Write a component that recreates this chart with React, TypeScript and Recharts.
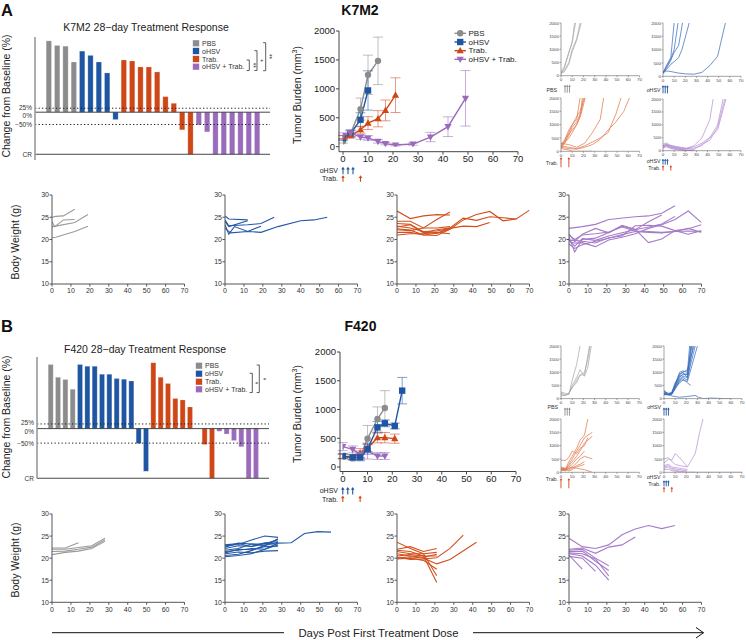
import React from 'react';
import { BarChart, Bar, Cell, LineChart, Line, XAxis, YAxis, ReferenceLine, ReferenceDot, ErrorBar } from 'recharts';

const FONT = '"Liberation Sans", Arial, Helvetica, sans-serif';
const COL: Record<string, string> = { pbs: '#8c8c8c', ohsv: '#1f56a3', trab: '#cf4617', combo: '#9a6bbb' };
const MINI: Record<string, string> = { pbs: '#a9a9a9', ohsv: '#3d70bd', trab: '#e07a4e', combo: '#b893d5' };
const BWC: Record<string, string> = { pbs: '#9a9a9a', ohsv: '#2358a6', trab: '#d2501d', combo: '#a57bc9' };

// ---------- ticks ----------
const X_TICKS = [0, 10, 20, 30, 40, 50, 60, 70];
const TB_TICKS = [0, 500, 1000, 1500, 2000];
const BW_TICKS = [10, 15, 20, 25, 30];

// ---------- waterfall (% change from baseline, -100 = CR) ----------
const K7M2_WF_PBS = [5460, 4190, 4020, 1590];
const K7M2_WF_OHSV = [3020, 2350, 1590, 814, -34];
const K7M2_WF_TRAB = [1790, 1690, 1180, 1180, 866, 140, 65, -63, -100];
const K7M2_WF_COMBO = [-51, -67, -100, -100, -100, -100, -100, -100];
const F420_WF_PBS = [2030, 1060, 940, 556];
const F420_WF_OHSV = [2030, 1870, 1870, 1240, 1240, 990, 957, 877, -51, -87];
const F420_WF_TRAB = [2240, 1060, 759, 320, 294, 182, 0, -53, -100];
const F420_WF_COMBO = [-12, -23, -43, -58, -100, -100];
const WF_LEGEND = ['PBS', 'oHSV', 'Trab.', 'oHSV + Trab.'];

// ---------- tumor burden means (mm3) ----------
const K7M2_PBS_DAYS = [0, 3, 7, 10, 14];
const K7M2_PBS_MEAN = [92, 224, 650, 1242, 1484];
const K7M2_PBS_SEM = [30, 60, 190, 340, 410];
const K7M2_OHSV_DAYS = [0, 3, 7, 10];
const K7M2_OHSV_MEAN = [150, 224, 466, 972];
const K7M2_OHSV_SEM = [40, 50, 120, 340];
const K7M2_TRAB_DAYS = [0, 3, 7, 10, 14, 17, 21];
const K7M2_TRAB_MEAN = [167, 190, 293, 408, 483, 627, 891];
const K7M2_TRAB_SEM = [30, 40, 60, 110, 140, 180, 300];
const K7M2_COMBO_DAYS = [0, 3, 7, 10, 14, 17, 21, 28, 35, 42, 49];
const K7M2_COMBO_MEAN = [190, 236, 167, 150, 92, 52, 29, 46, 167, 346, 836];
const K7M2_COMBO_SEM = [50, 60, 40, 40, 30, 20, 15, 20, 80, 170, 480];

const F420_PBS_DAYS = [0, 4, 7, 10, 14, 17];
const F420_PBS_MEAN = [180, 150, 180, 493, 835, 1027];
const F420_PBS_SEM = [40, 30, 40, 230, 210, 300];
const F420_OHSV_DAYS = [0, 4, 7, 10, 14, 17, 21, 24];
const F420_OHSV_MEAN = [191, 168, 168, 313, 690, 760, 713, 1328];
const F420_OHSV_SEM = [40, 40, 60, 90, 100, 60, 50, 230];
const F420_TRAB_DAYS = [0, 4, 7, 10, 14, 17, 21];
const F420_TRAB_MEAN = [185, 175, 240, 330, 510, 510, 493];
const F420_TRAB_SEM = [40, 40, 80, 60, 90, 90, 80];
const F420_COMBO_DAYS = [0, 4, 7, 10, 14, 17];
const F420_COMBO_MEAN = [354, 307, 220, 278, 191, 191];
const F420_COMBO_SEM = [70, 60, 60, 140, 60, 60];

const OHSV_DOSES = [0, 2, 4];
const TRAB_DOSES = [0, 7];
const TB_LEGEND = ['PBS', 'oHSV', 'Trab.', 'oHSV + Trab.'];

// ---------- individual tumor curves [day, mm3] ----------
const K7M2_IND_PBS = [
  [[0, 50], [3, 300], [7, 850], [10, 1300], [13, 2000]],
  [[0, 100], [3, 200], [7, 500], [10, 1000], [14, 1400], [17, 2000]],
  [[0, 80], [3, 150], [7, 450], [10, 900], [14, 1350], [18, 2000]],
  [[0, 120], [3, 350], [7, 900], [10, 1250], [12, 2000]],
];
const K7M2_IND_OHSV = [
  [[0, 100], [3, 400], [7, 700], [10, 2000]],
  [[0, 150], [3, 350], [7, 650], [10, 1000], [13.5, 2000]],
  [[0, 120], [3, 300], [7, 600], [10, 900], [14, 1150], [17.5, 2000]],
  [[0, 100], [3, 250], [7, 450], [10, 550], [14, 700], [17, 1000], [23.5, 2000]],
  [[0, 150], [3, 200], [7, 180], [14, 120], [21, 90], [28, 80], [35, 150], [42, 400], [49, 750], [56, 2000]],
];
const K7M2_IND_TRAB = [
  [[0, 200], [3, 400], [7, 700], [10, 1000], [14, 1200], [17, 2000]],
  [[0, 150], [3, 300], [7, 600], [10, 900], [14, 1100], [18, 1500], [20, 2000]],
  [[0, 250], [3, 400], [7, 800], [10, 1000], [14, 1300], [17, 1500], [21, 2000]],
  [[0, 100], [3, 300], [7, 500], [10, 700], [14, 1000], [18, 1400], [21.5, 2000]],
  [[0, 200], [3, 350], [7, 650], [10, 800], [14, 1000], [17, 1300], [19, 2000]],
  [[0, 300], [7, 250], [14, 150], [21, 300], [28, 700], [35, 1200], [38, 2000]],
  [[0, 200], [7, 150], [14, 100], [21, 200], [28, 350], [35, 500], [42, 700], [49, 1400], [53.5, 2000]],
  [[0, 150], [7, 100], [14, 80], [21, 150], [28, 250], [35, 450], [42, 800], [49, 1100], [56, 1500], [61, 2000]],
  [[0, 100], [7, 50], [10, 0], [28, 0]],
];
const K7M2_IND_COMBO = [
  [[0, 250], [3, 300], [7, 200], [10, 150], [14, 100], [21, 80], [28, 200], [35, 500], [42, 1200], [45, 2000]],
  [[0, 200], [3, 250], [7, 200], [14, 150], [21, 100], [28, 150], [35, 300], [42, 500], [49, 1000], [54, 2000]],
  [[0, 150], [3, 200], [7, 180], [14, 120], [21, 60], [28, 50], [35, 250], [42, 400], [49, 900], [55.5, 2000]],
  [[0, 180], [3, 220], [7, 150], [14, 100], [21, 80], [28, 100], [35, 200], [42, 500], [49, 800], [56.5, 2000]],
  [[0, 200], [3, 250], [7, 150], [14, 80], [21, 20], [28, 0]],
  [[0, 150], [3, 180], [7, 100], [14, 50], [21, 0], [28, 0]],
  [[0, 100], [3, 150], [7, 80], [14, 30], [21, 0]],
  [[0, 120], [3, 200], [7, 120], [14, 60], [21, 10], [28, 0]],
];
const F420_IND_PBS = [
  [[0, 250], [4, 200], [7, 150], [10, 700], [14, 1300], [17, 2000]],
  [[0, 200], [4, 150], [7, 200], [10, 500], [14, 800], [17, 1100], [21, 850], [24, 1200], [27, 2000]],
  [[0, 150], [4, 120], [7, 200], [10, 400], [14, 700], [17, 900], [21, 900], [25.5, 2000]],
  [[0, 100], [4, 120], [7, 180], [10, 450], [14, 600], [17, 900], [21, 1000], [24, 1500], [26, 2000]],
];
const F420_IND_OHSV = [
  [[0, 200], [4, 150], [7, 200], [10, 500], [14, 900], [17, 1000], [21, 800], [24, 2000]],
  [[0, 180], [4, 160], [7, 180], [10, 450], [14, 800], [17, 950], [21, 900], [25, 2000]],
  [[0, 220], [4, 170], [7, 220], [10, 550], [14, 1000], [17, 1050], [21, 1000], [23, 2000]],
  [[0, 150], [4, 140], [7, 160], [10, 400], [14, 700], [17, 800], [21, 700], [26, 2000]],
  [[0, 250], [4, 200], [7, 240], [10, 600], [14, 850], [17, 900], [21, 950], [24.5, 2000]],
  [[0, 160], [4, 150], [7, 170], [10, 350], [14, 650], [17, 750], [21, 600], [24, 500]],
  [[0, 300], [4, 180], [7, 200], [10, 500], [14, 950], [17, 1000], [21, 1100], [27, 2000]],
  [[0, 200], [4, 160], [7, 190], [10, 480], [14, 750], [17, 850], [21, 800], [28, 2000]],
  [[0, 170], [4, 150], [7, 180], [10, 420], [14, 600], [17, 700], [21, 650], [30, 2000]],
  [[0, 300], [4, 150], [7, 100], [14, 50], [21, 80], [28, 120], [31, 50], [35, 0], [42, 20], [49, 10], [56, 0], [60, 0]],
];
const F420_IND_TRAB = [
  [[0, 150], [4, 120], [7, 400], [10, 600], [14, 900], [17, 1200], [21, 1400], [24, 2000]],
  [[0, 100], [4, 80], [7, 300], [10, 500], [14, 800], [17, 1000], [21, 1300], [28, 1500]],
  [[0, 450], [4, 450], [7, 550], [10, 800], [14, 700], [17, 900], [21, 1000], [24, 1300]],
  [[0, 100], [4, 100], [7, 250], [10, 400], [14, 600], [17, 800], [21, 1100], [28, 1350]],
  [[0, 150], [4, 130], [7, 200], [10, 300], [14, 500], [17, 600], [21, 800]],
  [[0, 120], [4, 100], [7, 150], [10, 200], [14, 350], [17, 500], [21, 600], [28, 500]],
  [[0, 80], [4, 60], [7, 100], [10, 150], [14, 250], [17, 300], [21, 400]],
  [[0, 200], [4, 150], [7, 50], [10, 100], [14, 200], [21, 300]],
  [[0, 100], [4, 80], [7, 150], [10, 200], [14, 150], [21, 100], [28, 0]],
];
const F420_IND_COMBO = [
  [[0, 350], [4, 500], [7, 450], [10, 700], [14, 550], [17, 400], [21, 200], [28, 700], [32, 1500], [35, 2000]],
  [[0, 500], [4, 550], [7, 400], [10, 300], [14, 250], [21, 200]],
  [[0, 250], [4, 300], [7, 200], [14, 150], [21, 100]],
  [[0, 200], [4, 250], [7, 150], [14, 100], [21, 50]],
  [[0, 150], [4, 200], [7, 100], [14, 50], [21, 0], [28, 0]],
  [[0, 100], [4, 120], [7, 60], [14, 20], [21, 0], [70, 0]],
];

// ---------- body weight [day, g] ----------
const K7M2_BW_PBS = [
  [[0, 25], [2, 25.2], [6, 25.3], [12, 26.8]],
  [[0, 24], [1.5, 22.9], [6, 24.4], [12, 24.5]],
  [[0, 22.9], [2, 23], [12, 23.8], [19, 25.6]],
  [[0, 20.4], [2, 20.5], [12, 21.8], [19, 23]],
];
const K7M2_BW_OHSV = [
  [[0, 25.3], [2, 24.6], [12, 24.4]],
  [[0, 24.4], [2, 23.1], [12, 23.3], [19, 23.6], [26, 25]],
  [[0, 23.3], [2, 21.2], [5, 22.9], [12, 21.8], [19, 23]],
  [[0, 22.5], [3, 21.5], [12, 21.8], [19, 21.6], [28, 22.9], [40, 24.2], [47, 24.4], [54, 25]],
  [[0, 24], [2, 22.9], [12, 24.2]],
];
const K7M2_BW_TRAB = [
  [[0, 26.4], [7, 24.7], [14, 25.3], [21, 25.6], [28, 25.5]],
  [[0, 24.1], [7, 24.1], [14, 22.6], [21, 24.5], [28, 26.2]],
  [[0, 23.6], [7, 23.4], [14, 21.7], [21, 21.4], [28, 22.6], [35, 24.8], [42, 24.3], [49, 25.1], [56, 24.9], [63, 24.6], [70, 26.6]],
  [[0, 22.4], [7, 22.1], [14, 21], [21, 21.4], [28, 22.3], [35, 24.4], [42, 25.6], [49, 26.3], [56, 24.2], [63, 24.6]],
  [[0, 23], [7, 22.6], [14, 21.8], [21, 21.9], [28, 22.5], [35, 23], [42, 22.9], [49, 23.8]],
  [[0, 21], [7, 21.3], [14, 21.3], [21, 21.6], [28, 21.3]],
  [[0, 21.6], [7, 21.6], [14, 21], [21, 20.9], [28, 22.3]],
  [[0, 22.2], [7, 22], [14, 22.6], [21, 22.6], [28, 22.9]],
  [[0, 22.8], [7, 23.3], [14, 21.5], [21, 22.2], [28, 22.6]],
];
const K7M2_BW_COMBO = [
  [[0, 22.5], [7, 22.9], [14, 23.4], [21, 24.5], [35, 25.1], [42, 25.3], [49, 25.9], [56, 27.6]],
  [[0, 21.3], [3, 19.5], [7, 21.2], [14, 22.5], [21, 21.5], [28, 23.2], [35, 22.3], [42, 19.3], [49, 20.1], [56, 22], [63, 21.2], [70, 22]],
  [[0, 20.6], [3, 17.2], [7, 20], [14, 20.3], [21, 21.6], [28, 23], [35, 22.2], [42, 24], [49, 25.5]],
  [[0, 20], [3, 18.5], [7, 20.2], [14, 19.8], [21, 20.8], [28, 21.5], [35, 22.2], [42, 22.8], [49, 23.5], [56, 25.2]],
  [[0, 19.5], [3, 19.2], [7, 19.3], [14, 18.4], [21, 19.9], [28, 20.5], [35, 21.3], [42, 22.5], [49, 23.3], [56, 24.5], [63, 26.4], [70, 23.8]],
  [[0, 19.8], [3, 19.8], [7, 19.6], [14, 19.2], [21, 20.4], [28, 20.8], [35, 23.1], [42, 23.2], [49, 23], [56, 22], [63, 22.4], [70, 23.3]],
  [[0, 19], [3, 18], [7, 18.8], [14, 19.6], [21, 20.3], [28, 21.1], [35, 21.8], [42, 21.6], [49, 21.5], [56, 21.8], [63, 21.9], [70, 21.8]],
  [[0, 21], [3, 20], [7, 21], [14, 21.3], [21, 21.7], [28, 22.8], [35, 21.9], [42, 21.8], [49, 21.6], [56, 21.8], [63, 22.5], [70, 21.6]],
];
const F420_BW_PBS = [
  [[0, 22.3], [7, 22.3], [14, 23.5]],
  [[0, 22], [7, 22], [14, 22.4], [21, 22.8], [28, 24.5]],
  [[0, 21.5], [7, 21.6], [14, 22], [21, 22.5], [28, 24.1]],
  [[0, 20.8], [7, 21.3], [14, 21.6], [21, 22.2], [28, 23.8]],
];
const F420_BW_OHSV = [
  [[0, 20.3], [7, 20.6], [14, 21], [21, 22], [28, 23.4], [35, 23.5], [42, 25.6], [49, 26], [56, 25.9]],
  [[0, 22.8], [7, 23.1], [14, 24.1], [21, 25], [28, 24.7]],
  [[0, 22.5], [7, 23.4], [14, 23.2], [21, 23.2], [28, 24.2]],
  [[0, 22.2], [7, 22.8], [14, 22.7], [21, 23.5], [28, 23.7]],
  [[0, 21.8], [7, 22.2], [14, 23.2], [21, 22.8], [28, 24.4]],
  [[0, 21.5], [7, 21.8], [14, 22.2], [21, 22], [28, 23]],
  [[0, 21.2], [7, 22], [14, 21.9], [21, 22.6], [28, 22.7]],
  [[0, 21], [7, 21.4], [14, 21.2], [21, 21.6], [28, 21.7]],
  [[0, 20.6], [7, 20.9], [14, 21.7], [21, 22.9], [28, 23.6]],
  [[0, 23], [7, 23.3], [14, 22.6], [21, 23.3], [28, 23.2]],
];
const F420_BW_TRAB = [
  [[0, 23.6], [7, 22.2], [14, 21], [21, 16]],
  [[0, 22], [7, 22.6], [14, 21.5], [21, 22.2]],
  [[0, 21.8], [7, 21.5], [14, 20.5], [21, 14.5]],
  [[0, 21.5], [7, 21], [14, 21], [21, 21.3]],
  [[0, 21], [7, 20.5], [14, 20.2], [21, 20.9]],
  [[0, 20.5], [7, 20.8], [14, 20.5], [21, 20.5]],
  [[0, 20.2], [7, 19.7], [14, 19.8], [21, 20.1], [28, 22.2], [35, 25.2]],
  [[0, 20], [7, 20.3], [14, 20], [21, 18.7], [28, 19.7], [42, 23.6]],
  [[0, 19.8], [7, 20], [14, 19.5], [21, 17.5]],
];
const F420_BW_COMBO = [
  [[0, 24.5], [7, 22.6], [14, 22.2], [21, 23], [28, 25.3], [35, 26.6], [42, 27.4], [49, 26.7], [56, 27.4]],
  [[0, 22], [7, 22.3], [14, 21.1], [21, 22.5], [28, 23], [35, 24.8]],
  [[0, 21.8], [7, 22], [14, 20], [21, 18.3]],
  [[0, 21.5], [7, 21.6], [14, 19.3], [21, 17.2]],
  [[0, 21.2], [7, 21], [14, 19.8], [21, 16]],
  [[0, 21], [7, 20.5], [14, 18.4], [21, 15]],
  [[0, 20.7], [7, 17.5]],
  [[0, 20.4], [7, 20], [14, 17]],
];

// ---------- helpers ----------
const CR_POS = -1.03;
const wfPos = (pct: number) => (pct <= -100 ? CR_POS : Math.log10(1 + pct / 100));
const wfRows = (groups: [string, number[]][]) => {
  const rows: any[] = [];
  groups.forEach(([g, vals]) => vals.forEach((v) => rows.push({ i: rows.length, g, pct: v, pos: wfPos(v) })));
  return rows;
};
const toPts = (arr: number[][]) => arr.map(([d, v]) => ({ d, v }));
const zipSeries = (days: number[], mean: number[], sem: number[]) => days.map((d, i) => ({ d, v: mean[i], e: sem[i] }));

function frame(x0: number, x1: number, y0: number, y1: number, yw: number, xh: number, mt: number, mr: number, mb: number) {
  return {
    style: { position: 'absolute', left: x0 - yw, top: y0 - mt } as React.CSSProperties,
    width: x1 - x0 + yw + mr,
    height: y1 - y0 + mt + xh + mb,
    margin: { top: mt, right: mr, left: 0, bottom: mb },
  };
}

const WF_LABELS: [number, string, number][] = [
  [wfPos(25), '25%', -1],
  [0, '0%', 3],
  [wfPos(-50), '\u221250%', 0],
  [CR_POS, 'CR', 0],
];

function WfTick(p: any) {
  const v = p.payload?.value;
  const found = WF_LABELS.find((l) => Math.abs(l[0] - v) < 1e-6);
  if (!found) return <g />;
  return (
    <text x={p.x + 1} y={p.y + found[2]} textAnchor="end" dominantBaseline="central" fontSize={6.5} fill="#333">
      {found[1]}
    </text>
  );
}

function Waterfall({ rows, box, domain, padL, padR, barSize }: any) {
  const f = frame(box.x0, box.x1, box.y0, box.y1, 30, 0, 2, 2, 8);
  const ticks = WF_LABELS.map((l) => l[0]);
  return (
    <div style={f.style}>
      <BarChart width={f.width} height={f.height} data={rows} margin={f.margin} barCategoryGap={0}>
        <XAxis dataKey="i" hide padding={{ left: padL, right: padR }} />
        <YAxis
          type="number"
          domain={domain}
          allowDataOverflow
          ticks={ticks}
          interval={0}
          width={30}
          axisLine={{ stroke: '#9a9a9a', strokeWidth: 1.6 }}
          tickLine={false}
          tickSize={3}
          tickMargin={1}
          tick={(p: any) => <WfTick {...p} />}
        />
        <Bar dataKey="pos" barSize={barSize} isAnimationActive={false}>
          {rows.map((r: any) => (
            <Cell key={r.i} fill={COL[r.g]} stroke="#ffffff" strokeOpacity={0.5} strokeWidth={0.4} />
          ))}
        </Bar>
        <ReferenceLine y={ticks[0]} stroke="#222" strokeDasharray="1.3 2.2" strokeWidth={1} />
        <ReferenceLine y={0} stroke="#333" strokeWidth={0.9} />
        <ReferenceLine y={ticks[2]} stroke="#222" strokeDasharray="1.3 2.2" strokeWidth={1} />
        <ReferenceLine y={CR_POS} stroke="#333" strokeWidth={0.9} />
      </BarChart>
    </div>
  );
}

function markerShape(shape: string, color: string, cx: number, cy: number, key?: any) {
  if (cx == null || cy == null || isNaN(cx) || isNaN(cy)) return <g key={key} />;
  if (shape === 'circle') return <circle key={key} cx={cx} cy={cy} r={3.2} fill={color} />;
  if (shape === 'square') return <rect key={key} x={cx - 3.2} y={cy - 3.2} width={6.4} height={6.4} fill={color} />;
  if (shape === 'up')
    return <polygon key={key} points={`${cx},${cy - 3.8} ${cx + 3.6},${cy + 2.6} ${cx - 3.6},${cy + 2.6}`} fill={color} />;
  return <polygon key={key} points={`${cx},${cy + 3.8} ${cx + 3.6},${cy - 2.6} ${cx - 3.6},${cy - 2.6}`} fill={color} />;
}

function arrowShape(cx: number, cy: number, yTop: number, yBot: number, color: string, w = 1.1, head = 1.8, dx = 0) {
  if (cx == null || cy == null) return <g />;
  const x = cx + dx;
  const t = cy + yTop;
  const b = cy + yBot;
  return (
    <g>
      <line x1={x} y1={b} x2={x} y2={t + head * 0.8} stroke={color} strokeWidth={w} />
      <polygon points={`${x},${t} ${x + head},${t + head * 1.5} ${x - head},${t + head * 1.5}`} fill={color} />
    </g>
  );
}

const SHAPES: Record<string, string> = { pbs: 'circle', ohsv: 'square', trab: 'up', combo: 'down' };

function Tumor({ box, padL, padB, series }: any) {
  const f = frame(box.x0, box.x1, box.y0, box.y1, 34, 16, 6, 8, 38);
  return (
    <div style={f.style}>
      <LineChart width={f.width} height={f.height} margin={f.margin}>
        <XAxis
          type="number"
          dataKey="d"
          domain={[0, 70]}
          ticks={X_TICKS}
          interval={0}
          allowDataOverflow
          padding={{ left: padL, right: 0 }}
          height={16}
          tick={{ fontSize: 9.5, fill: '#222' }}
          tickSize={3}
          tickMargin={1}
          axisLine={{ stroke: '#444' }}
          tickLine={{ stroke: '#444' }}
        />
        <YAxis
          type="number"
          domain={[0, 2000]}
          ticks={TB_TICKS}
          interval={0}
          allowDataOverflow
          padding={{ top: 0, bottom: padB }}
          width={34}
          tick={{ fontSize: 9.5, fill: '#222' }}
          tickSize={3}
          tickMargin={1}
          axisLine={{ stroke: '#444' }}
          tickLine={{ stroke: '#444' }}
        />
        {series.map((s: any) => (
          <Line
            key={s.g}
            data={s.pts}
            dataKey="v"
            stroke={COL[s.g]}
            strokeWidth={1.4}
            isAnimationActive={false}
            activeDot={false}
            dot={(p: any) => markerShape(SHAPES[s.g], COL[s.g], p.cx, p.cy, p.index)}
          >
            <ErrorBar dataKey="e" width={5} strokeWidth={1} stroke={COL[s.g]} strokeOpacity={0.55} direction="y" />
          </Line>
        ))}
        {OHSV_DOSES.map((d) => (
          <ReferenceDot key={'o' + d} x={d} y={0} ifOverflow="visible" shape={(p: any) => arrowShape(p.cx, p.cy, 20, 27.5, COL.ohsv)} />
        ))}
        {TRAB_DOSES.map((d) => (
          <ReferenceDot key={'t' + d} x={d} y={0} ifOverflow="visible" shape={(p: any) => arrowShape(p.cx, p.cy, 28.5, 35, COL.trab)} />
        ))}
      </LineChart>
    </div>
  );
}

function Mini({ box, mice, g, marks }: any) {
  const f = frame(box.x0, box.x1, box.y0, box.y1, 14, 8, 3, 4, 22);
  return (
    <div style={f.style}>
      <LineChart width={f.width} height={f.height} margin={f.margin}>
        <XAxis
          type="number"
          dataKey="d"
          domain={[0, 70]}
          ticks={X_TICKS}
          interval={0}
          allowDataOverflow
          height={8}
          tick={{ fontSize: 4.4, fill: '#444' }}
          tickSize={1.5}
          tickMargin={0.8}
          axisLine={{ stroke: '#666', strokeWidth: 0.6 }}
          tickLine={{ stroke: '#666', strokeWidth: 0.6 }}
        />
        <YAxis
          type="number"
          domain={[0, 2000]}
          ticks={TB_TICKS}
          interval={0}
          allowDataOverflow
          width={14}
          tick={{ fontSize: 4.4, fill: '#444' }}
          tickSize={1.5}
          tickMargin={0.6}
          axisLine={{ stroke: '#666', strokeWidth: 0.6 }}
          tickLine={{ stroke: '#666', strokeWidth: 0.6 }}
        />
        {mice.map((m: number[][], i: number) => (
          <Line key={i} data={toPts(m)} dataKey="v" stroke={MINI[g]} strokeWidth={0.75} dot={false} activeDot={false} isAnimationActive={false} />
        ))}
        {marks.map((mk: any, i: number) => (
          <ReferenceDot
            key={'m' + i}
            x={mk.d}
            y={0}
            ifOverflow="visible"
            shape={(p: any) => arrowShape(p.cx, p.cy, mk.top, mk.bot, mk.color, 0.9, 1.3, mk.dx || 0)}
          />
        ))}
      </LineChart>
    </div>
  );
}

function BodyWeight({ box, mice, g }: any) {
  const f = frame(box.x0, box.x1, box.y0, box.y1, 20, 14, 5, 6, 0);
  return (
    <div style={f.style}>
      <LineChart width={f.width} height={f.height} margin={f.margin}>
        <XAxis
          type="number"
          dataKey="d"
          domain={[0, 70]}
          ticks={X_TICKS}
          interval={0}
          allowDataOverflow
          height={14}
          tick={{ fontSize: 7, fill: '#333' }}
          tickSize={2.5}
          tickMargin={2}
          axisLine={{ stroke: '#555' }}
          tickLine={{ stroke: '#555' }}
        />
        <YAxis
          type="number"
          domain={[10, 30]}
          ticks={BW_TICKS}
          interval={0}
          allowDataOverflow
          width={20}
          tick={{ fontSize: 7, fill: '#333' }}
          tickSize={2.5}
          tickMargin={0.5}
          axisLine={{ stroke: '#555' }}
          tickLine={{ stroke: '#555' }}
        />
        {mice.map((m: number[][], i: number) => (
          <Line key={i} data={toPts(m)} dataKey="v" stroke={BWC[g]} strokeWidth={1.1} dot={false} activeDot={false} isAnimationActive={false} />
        ))}
      </LineChart>
    </div>
  );
}

const GROUPS = ['pbs', 'ohsv', 'trab', 'combo'];

function WfLegend({ x, ys }: { x: number; ys: number[] }) {
  return (
    <g>
      {GROUPS.map((g, i) => (
        <g key={g}>
          <rect x={x} y={ys[i] - 3.3} width={6.6} height={6.6} fill={COL[g]} stroke="#fff" strokeWidth={0.4} />
          <text x={x + 9.3} y={ys[i]} dominantBaseline="central" fontSize={7} fill="#333">
            {WF_LEGEND[i]}
          </text>
        </g>
      ))}
    </g>
  );
}

function Bracket({ x, y1, y2, stars, sx, sy }: any) {
  return (
    <g>
      <path d={`M${x - 2.6},${y1} H${x} V${y2} H${x - 2.6}`} stroke="#333" strokeWidth={0.8} fill="none" />
      <text transform={`translate(${sx},${sy}) rotate(90)`} textAnchor="middle" dominantBaseline="central" fontSize={6.5} fill="#333">
        {stars}
      </text>
    </g>
  );
}

function Overlay() {
  const tbLegendY = [33.3, 42, 50.7, 59.3];
  return (
    <svg width={746} height={640} style={{ position: 'absolute', left: 0, top: 0, pointerEvents: 'none', fontFamily: FONT }}>
      <text x={1} y={16} fontSize={16.5} fontWeight="bold" fill="#111">A</text>
      <text x={1} y={332} fontSize={16.5} fontWeight="bold" fill="#111">B</text>

      <text x={146} y={31} textAnchor="middle" fontSize={10.5} fill="#222">K7M2 28{'\u2212'}day Treatment Response</text>
      <text x={145} y={353} textAnchor="middle" fontSize={10.5} fill="#222">F420 28{'\u2212'}day Treatment Response</text>

      <text transform="translate(10,96) rotate(-90)" textAnchor="middle" fontSize={10.5} fill="#222">Change from Baseline (%)</text>
      <text transform="translate(10,417) rotate(-90)" textAnchor="middle" fontSize={10.5} fill="#222">Change from Baseline (%)</text>

      <WfLegend x={192.7} ys={[43.3, 51, 59, 66.7]} />
      <Bracket x={249.3} y1={60} y2={70.5} stars="**" sx={253} sy={65.2} />
      <Bracket x={257} y1={50.7} y2={70.5} stars="*" sx={260} sy={60.5} />
      <Bracket x={265.7} y1={42.7} y2={70.7} stars="**" sx={269.5} sy={56.5} />

      <WfLegend x={195.7} ys={[365.7, 373.7, 381.7, 389.3]} />
      <Bracket x={252.3} y1={373.3} y2={392.5} stars="*" sx={255.5} sy={383} />
      <Bracket x={259.3} y1={365} y2={392.5} stars="*" sx={263.5} sy={379} />

      <text x={360} y={15} textAnchor="middle" fontSize={14} fontWeight="bold" fill="#111">K7M2</text>
      <text x={360.5} y={331} textAnchor="middle" fontSize={14} fontWeight="bold" fill="#111">F420</text>

      <text transform="translate(301,95) rotate(-90)" textAnchor="middle" fontSize={10.5} fill="#222">
        Tumor Burden (mm<tspan fontSize={7} dy={-4}>3</tspan><tspan dy={4}>)</tspan>
      </text>
      <text transform="translate(301,414) rotate(-90)" textAnchor="middle" fontSize={10.5} fill="#222">
        Tumor Burden (mm<tspan fontSize={7} dy={-4}>3</tspan><tspan dy={4}>)</tspan>
      </text>

      {GROUPS.map((g, i) => (
        <g key={g}>
          <line x1={454.5} x2={466} y1={tbLegendY[i]} y2={tbLegendY[i]} stroke={COL[g]} strokeWidth={1.4} />
          {markerShape(SHAPES[g], COL[g], 460.2, tbLegendY[i])}
          <text x={468.5} y={tbLegendY[i]} dominantBaseline="central" fontSize={8} fill="#222">{TB_LEGEND[i]}</text>
        </g>
      ))}

      <text x={338} y={170.5} textAnchor="end" dominantBaseline="central" fontSize={7} fill="#222">oHSV</text>
      <text x={338} y={178.7} textAnchor="end" dominantBaseline="central" fontSize={7} fill="#222">Trab.</text>
      <text x={338} y={490.5} textAnchor="end" dominantBaseline="central" fontSize={7} fill="#222">oHSV</text>
      <text x={338} y={499} textAnchor="end" dominantBaseline="central" fontSize={7} fill="#222">Trab.</text>

      <text x={557} y={89.5} textAnchor="end" dominantBaseline="central" fontSize={5.3} fill="#333">PBS</text>
      <text x={660.5} y={89.5} textAnchor="end" dominantBaseline="central" fontSize={5.3} fill="#333">oHSV</text>
      <text x={558} y={163} textAnchor="end" dominantBaseline="central" fontSize={5.3} fill="#333">Trab.</text>
      <text x={660.5} y={161} textAnchor="end" dominantBaseline="central" fontSize={5.3} fill="#333">oHSV</text>
      <text x={660.5} y={167.7} textAnchor="end" dominantBaseline="central" fontSize={5.3} fill="#333">Trab.</text>

      <text x={558} y={406.5} textAnchor="end" dominantBaseline="central" fontSize={5.3} fill="#333">PBS</text>
      <text x={661} y={406.5} textAnchor="end" dominantBaseline="central" fontSize={5.3} fill="#333">oHSV</text>
      <text x={558} y={479} textAnchor="end" dominantBaseline="central" fontSize={5.3} fill="#333">Trab.</text>
      <text x={660.5} y={477} textAnchor="end" dominantBaseline="central" fontSize={5.3} fill="#333">oHSV</text>
      <text x={660.5} y={483.5} textAnchor="end" dominantBaseline="central" fontSize={5.3} fill="#333">Trab.</text>

      <text transform="translate(19,242) rotate(-90)" textAnchor="middle" fontSize={10.5} fill="#222">Body Weight (g)</text>
      <text transform="translate(19,560) rotate(-90)" textAnchor="middle" fontSize={10.5} fill="#222">Body Weight (g)</text>

      <line x1={52} x2={284} y1={632.7} y2={632.7} stroke="#111" strokeWidth={1} />
      <line x1={473} x2={703.5} y1={632.7} y2={632.7} stroke="#111" strokeWidth={1} />
      <polyline points="696,627.5 703.5,632.7 696,638" stroke="#111" strokeWidth={1} fill="none" />
      <text x={378.5} y={636.5} textAnchor="middle" fontSize={11.3} fill="#222">Days Post First Treatment Dose</text>
    </svg>
  );
}

const K7M2_ROWS = wfRows([
  ['pbs', K7M2_WF_PBS],
  ['ohsv', K7M2_WF_OHSV],
  ['trab', K7M2_WF_TRAB],
  ['combo', K7M2_WF_COMBO],
]);
const F420_ROWS = wfRows([
  ['pbs', F420_WF_PBS],
  ['ohsv', F420_WF_OHSV],
  ['trab', F420_WF_TRAB],
  ['combo', F420_WF_COMBO],
]);

const K7M2_SERIES = [
  { g: 'pbs', pts: zipSeries(K7M2_PBS_DAYS, K7M2_PBS_MEAN, K7M2_PBS_SEM) },
  { g: 'ohsv', pts: zipSeries(K7M2_OHSV_DAYS, K7M2_OHSV_MEAN, K7M2_OHSV_SEM) },
  { g: 'trab', pts: zipSeries(K7M2_TRAB_DAYS, K7M2_TRAB_MEAN, K7M2_TRAB_SEM) },
  { g: 'combo', pts: zipSeries(K7M2_COMBO_DAYS, K7M2_COMBO_MEAN, K7M2_COMBO_SEM) },
];
const F420_SERIES = [
  { g: 'pbs', pts: zipSeries(F420_PBS_DAYS, F420_PBS_MEAN, F420_PBS_SEM) },
  { g: 'trab', pts: zipSeries(F420_TRAB_DAYS, F420_TRAB_MEAN, F420_TRAB_SEM) },
  { g: 'combo', pts: zipSeries(F420_COMBO_DAYS, F420_COMBO_MEAN, F420_COMBO_SEM) },
  { g: 'ohsv', pts: zipSeries(F420_OHSV_DAYS, F420_OHSV_MEAN, F420_OHSV_SEM) },
];

const pbsMarks = OHSV_DOSES.map((d) => ({ d, top: 9, bot: 17, color: '#8c8c8c', dx: 4 }));
const ohsvMarks = OHSV_DOSES.map((d) => ({ d, top: 9, bot: 17, color: COL.ohsv }));
const trabMarks = TRAB_DOSES.map((d) => ({ d, top: 6, bot: 16, color: COL.trab }));
const comboMarks = [
  ...OHSV_DOSES.map((d) => ({ d, top: 8, bot: 14, color: COL.ohsv })),
  ...TRAB_DOSES.map((d) => ({ d, top: 14.5, bot: 20, color: COL.trab })),
];

export default function App() {
  const bwX = [52.3, 225, 396.7, 569];
  const bwGroupsA = [K7M2_BW_PBS, K7M2_BW_OHSV, K7M2_BW_TRAB, K7M2_BW_COMBO];
  const bwGroupsB = [F420_BW_PBS, F420_BW_OHSV, F420_BW_TRAB, F420_BW_COMBO];
  return (
    <div style={{ position: 'absolute', left: 0, top: 0, width: 746, height: 640, background: '#fff', fontFamily: FONT, overflow: 'hidden' }}>
      <Waterfall rows={K7M2_ROWS} box={{ x0: 35, x1: 270, y0: 37, y1: 160 }} domain={[-1.17, 1.84]} padL={9.2} padR={9.2} barSize={5.3} />
      <Waterfall rows={F420_ROWS} box={{ x0: 37.3, x1: 269.3, y0: 356.7, y1: 478.3 }} domain={[-1.037, 1.486]} padL={10.2} padR={9.2} barSize={5} />

      <Tumor box={{ x0: 339.3, x1: 518.3, y0: 31, y1: 151.7 }} padL={4} padB={5} series={K7M2_SERIES} />
      <Tumor box={{ x0: 340, x1: 516, y0: 352, y1: 471.5 }} padL={2.8} padB={4.5} series={F420_SERIES} />

      <Mini box={{ x0: 560.5, x1: 639, y0: 23.3, y1: 76 }} mice={K7M2_IND_PBS} g="pbs" marks={pbsMarks} />
      <Mini box={{ x0: 663, x1: 741, y0: 22.7, y1: 76 }} mice={K7M2_IND_OHSV} g="ohsv" marks={ohsvMarks} />
      <Mini box={{ x0: 560.5, x1: 639, y0: 97.7, y1: 151 }} mice={K7M2_IND_TRAB} g="trab" marks={trabMarks} />
      <Mini box={{ x0: 663, x1: 741, y0: 99.3, y1: 151 }} mice={K7M2_IND_COMBO} g="combo" marks={comboMarks} />

      <Mini box={{ x0: 561, x1: 639.3, y0: 345.7, y1: 398.3 }} mice={F420_IND_PBS} g="pbs" marks={pbsMarks} />
      <Mini box={{ x0: 664, x1: 742, y0: 345.7, y1: 398.3 }} mice={F420_IND_OHSV} g="ohsv" marks={ohsvMarks} />
      <Mini box={{ x0: 561, x1: 639.3, y0: 419, y1: 472.3 }} mice={F420_IND_TRAB} g="trab" marks={trabMarks} />
      <Mini box={{ x0: 664, x1: 742, y0: 419, y1: 472.3 }} mice={F420_IND_COMBO} g="combo" marks={comboMarks} />

      {bwGroupsA.map((m, i) => (
        <BodyWeight key={'a' + i} box={{ x0: bwX[i], x1: bwX[i] + 132.5, y0: 195, y1: 284 }} mice={m} g={GROUPS[i]} />
      ))}
      {bwGroupsB.map((m, i) => (
        <BodyWeight key={'b' + i} box={{ x0: bwX[i], x1: bwX[i] + 132.5, y0: 514, y1: 602.3 }} mice={m} g={GROUPS[i]} />
      ))}

      <Overlay />
    </div>
  );
}
